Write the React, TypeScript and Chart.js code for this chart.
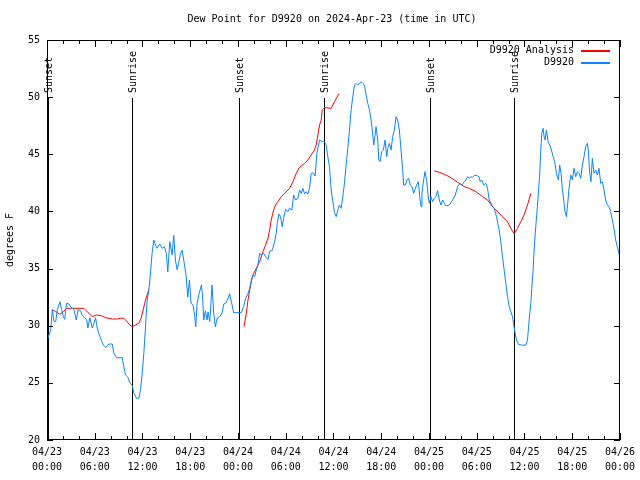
import React, { useEffect, useRef } from "react";
import { Chart, registerables } from "chart.js";

Chart.register(...registerables);

const TITLE = "Dew Point for D9920 on 2024-Apr-23 (time in UTC)";
const Y_TITLE = "degrees F";
const FONT = "DejaVu Sans Mono";

// hours since 2024-04-23 00:00 UTC
const xTickDates = ["04/23", "04/23", "04/23", "04/23", "04/24", "04/24", "04/24", "04/24", "04/25", "04/25", "04/25", "04/25", "04/26"];
const xTickTimes = ["00:00", "06:00", "12:00", "18:00", "00:00", "06:00", "12:00", "18:00", "00:00", "06:00", "12:00", "18:00", "00:00"];

const sunEventHours = [0.1, 10.72, 24.12, 34.78, 48.1, 58.74];
const sunEventLabels = ["Sunset", "Sunrise", "Sunset", "Sunrise", "Sunset", "Sunrise"];

const obsHours = [
  0.0, 0.46, 0.67, 0.88, 1.09, 1.3, 1.63, 1.84, 2.05, 2.22, 2.47, 2.76, 3.05, 3.39, 3.68, 3.93, 4.22, 4.43, 4.72, 4.98,
  5.14, 5.39, 5.69, 5.9, 6.1, 6.31, 6.52, 6.82, 7.07, 7.4, 7.78, 8.2, 8.4, 8.74, 9.45, 9.66, 9.87, 10.16, 10.41, 10.7,
  10.91, 11.25, 11.54, 11.75, 11.96, 12.17, 12.38, 12.59, 12.8, 13.0, 13.2, 13.42, 13.63, 13.84, 14.17, 14.47, 14.76, 15.0, 15.18, 15.43,
  15.72, 15.93, 16.14, 16.35, 16.56, 16.77, 16.98, 17.18, 17.48, 17.69, 17.9, 18.1, 18.36, 18.57, 18.69, 18.86, 19.11, 19.4, 19.53, 19.7,
  19.9, 20.11, 20.24, 20.45, 20.53, 20.74, 20.95, 21.16, 21.37, 21.7, 22.0, 22.2, 22.46, 22.66, 22.96, 23.17, 23.46, 24.0, 24.42, 24.71,
  24.96, 25.26, 25.47, 25.68, 25.88, 26.09, 26.3, 26.51, 26.72, 26.93, 27.22, 27.47, 27.77, 27.98, 28.31, 28.6, 28.81, 28.94, 29.15, 29.35,
  29.56, 29.73, 29.98, 30.27, 30.48, 30.78, 30.99, 31.24, 31.53, 31.74, 31.95, 32.16, 32.37, 32.57, 32.78, 32.99, 33.2, 33.41, 33.7, 33.91,
  34.08, 34.25, 34.58, 34.87, 35.08, 35.29, 35.5, 35.71, 35.92, 36.13, 36.34, 36.55, 36.75, 36.96, 37.17, 37.38, 37.59, 37.8, 38.01, 38.22,
  38.43, 38.64, 38.85, 39.05, 39.26, 39.47, 39.68, 39.89, 40.1, 40.31, 40.52, 40.73, 40.94, 41.06, 41.23, 41.35, 41.56, 41.69, 41.86, 42.06,
  42.27, 42.48, 42.69, 42.82, 43.03, 43.24, 43.44, 43.65, 43.86, 44.07, 44.28, 44.49, 44.7, 44.82, 45.03, 45.24, 45.45, 45.66, 45.87, 46.08,
  46.29, 46.45, 46.66, 46.87, 47.0, 47.12, 47.33, 47.5, 47.71, 47.88, 48.04, 48.25, 48.46, 48.67, 48.88, 49.09, 49.3, 49.51, 49.72, 49.93,
  50.13, 50.55, 50.97, 51.31, 51.6, 51.89, 52.14, 52.43, 52.64, 52.85, 53.06, 53.27, 53.48, 53.77, 54.1, 54.3, 54.44, 54.65, 54.86, 55.15,
  55.36, 55.57, 55.9, 56.2, 56.49, 56.82, 57.03, 57.24, 57.45, 57.66, 57.87, 58.08, 58.29, 58.5, 58.62, 58.79, 59.0, 59.25, 59.75, 60.17,
  60.38, 60.59, 60.8, 60.92, 61.09, 61.21, 61.42, 61.63, 61.76, 61.92, 62.05, 62.18, 62.34, 62.47, 62.59, 62.76, 62.97, 63.18, 63.39, 63.6,
  63.81, 64.01, 64.14, 64.27, 64.43, 64.6, 64.77, 64.93, 65.1, 65.27, 65.44, 65.6, 65.81, 66.02, 66.23, 66.44, 66.65, 66.86, 67.07, 67.28,
  67.49, 67.69, 67.9, 68.03, 68.2, 68.36, 68.53, 68.74, 68.95, 69.16, 69.37, 69.58, 69.79, 70.0, 70.2, 70.41, 70.62, 70.83, 71.04, 71.25,
  71.46, 71.67, 71.87, 72.0,
];
const obsDew = [
  28.7, 29.6, 31.4, 30.35, 30.35, 31.4, 32.1, 31.4, 30.8, 30.56, 31.96, 31.9, 31.6, 31.4, 30.5, 31.4, 31.3, 30.9, 30.7, 30.55,
  29.8, 30.7, 29.8, 30.2, 30.7, 29.8, 29.3, 28.75, 28.3, 28.1, 28.4, 28.4, 27.6, 27.2, 27.2, 26.4, 25.7, 25.5, 25.0, 24.8,
  24.1, 23.65, 23.65, 24.4, 25.8, 27.6, 29.9, 32.25, 33.1, 34.6, 36.3, 37.5, 37.06, 36.77, 37.15, 36.77, 36.9, 36.3, 34.7, 37.35,
  36.2, 37.9, 35.75, 34.9, 35.5, 36.3, 36.6, 35.75, 34.4, 32.5, 34.0, 31.96, 31.8, 30.8, 29.9, 31.96, 32.8, 33.56, 32.8, 30.5,
  31.3, 30.5, 31.2, 30.36, 31.1, 33.56, 31.1, 29.9, 30.65, 30.8, 31.1, 31.9, 31.96, 32.25, 32.8, 32.1, 31.14, 31.14, 31.14, 31.67,
  32.4, 32.8, 33.27, 34.0, 34.4, 34.3, 34.88, 35.3, 36.33, 36.2, 36.33, 36.04, 35.8, 36.5, 36.6, 37.35, 38.08, 38.96, 39.78, 39.54,
  38.67, 39.4, 40.18, 39.98, 40.27, 40.13, 41.44, 41.0, 41.15, 41.88, 41.58, 42.02, 41.53, 41.73, 41.53, 42.02, 43.33, 43.39, 43.1, 45.08,
  45.67, 46.25, 46.1, 46.1, 45.8, 44.8, 43.9, 41.88, 40.86, 39.9, 39.54, 40.13, 40.56, 40.27, 41.29, 42.46, 44.06, 45.52, 47.13, 48.88,
  50.04, 51.06, 51.2, 51.06, 51.2, 51.35, 51.2, 51.06, 50.19, 49.46, 48.88, 48.0, 46.69, 45.81, 46.69, 47.42, 46.25, 44.5, 44.36, 45.23,
  45.38, 46.25, 44.79, 45.52, 45.96, 45.38, 46.54, 47.13, 48.29, 48.0, 47.13, 45.38, 43.63, 42.31, 42.31, 42.75, 42.9, 42.31, 42.17, 41.58,
  42.02, 42.31, 42.6, 41.15, 40.42, 41.58, 42.75, 43.48, 42.75, 41.44, 40.71, 41.29, 40.85, 41.15, 41.29, 41.82, 41.0, 40.56, 41.0, 40.71,
  40.48, 40.56, 41.0, 41.44, 42.17, 42.46, 42.31, 42.6, 42.75, 43.04, 42.9, 43.04, 42.98, 43.19, 43.1, 43.04, 42.6, 42.75, 42.31, 42.46,
  42.02, 41.0, 40.56, 40.27, 39.54, 38.37, 37.35, 36.04, 34.87, 33.71, 32.54, 31.67, 31.23, 30.79, 30.21, 29.48, 28.75, 28.37, 28.29, 28.31,
  28.75, 30.5, 31.96, 33.27, 34.87, 36.62, 38.67, 40.42, 41.73, 43.33, 45.37, 46.83, 47.27, 46.54, 46.25, 47.13, 46.1, 45.81, 45.37, 44.79,
  44.36, 43.33, 43.04, 42.75, 44.06, 43.33, 41.88, 41.0, 39.98, 39.54, 40.71, 42.02, 43.19, 42.75, 43.77, 43.04, 43.48, 43.33, 42.9, 44.06,
  44.79, 45.67, 45.96, 45.37, 43.33, 42.6, 44.65, 43.33, 43.62, 43.19, 43.77, 42.46, 42.6, 41.88, 41.0, 40.56, 40.42, 39.98, 39.25, 38.52,
  37.5, 36.92, 36.33, 36.1,
];

// analysis series; null marks a gap between runs
const anaHours = [
  0.67, 1.09, 1.63, 2.05, 2.47, 2.97, 3.6, 4.64, 5.06, 5.69, 6.23, 6.82, 7.36, 8.2, 8.82, 9.24, 9.66, 9.99, 10.41, 10.7,
  11.12, 11.54, 11.83, 12.08, 12.38, 12.8,
  18.0,
  24.76, 25.05, 25.26, 25.47, 25.68, 25.88, 26.3, 26.72, 27.14, 27.47, 27.77, 27.98, 28.18, 28.48, 28.73, 29.02, 29.44, 30.07, 30.48,
  30.9, 31.32, 31.74, 32.37, 32.78, 33.2, 33.62, 33.83, 34.04, 34.25, 34.46, 34.58, 34.88, 35.71, 36.13, 36.67,
  42.0,
  48.67, 49.3, 49.93, 50.55, 51.18, 51.81, 52.43, 53.06, 53.9, 54.73, 55.36, 55.99, 56.62, 57.24, 57.87, 58.29, 58.71, 59.12, 59.54, 59.96,
  60.38, 60.8,
];
const anaDew = [
  31.4, 31.23, 31.0, 31.23, 31.52, 31.52, 31.52, 31.52, 31.23, 30.79, 30.94, 30.88, 30.7, 30.59, 30.59, 30.65, 30.65, 30.41, 30.06, 29.92,
  30.06, 30.21, 30.65, 31.38, 32.25, 33.18,
  null,
  29.92, 31.09, 32.25, 33.13, 33.86, 34.44, 35.02, 35.6, 36.48, 37.06, 37.65, 38.38, 39.25, 40.13, 40.56, 40.86, 41.29, 41.73, 42.02,
  42.6, 43.33, 43.86, 44.21, 44.5, 44.94, 45.38, 45.81, 46.69, 47.56, 48.0, 48.88, 49.08, 49.02, 49.6, 50.28,
  null,
  43.54, 43.42, 43.25, 43.04, 42.75, 42.46, 42.17, 42.02, 41.73, 41.29, 41.0, 40.42, 39.98, 39.54, 39.1, 38.52, 38.03, 38.52, 39.1, 39.69,
  40.56, 41.58,
];

const legendLabels = ["D9920 Analysis", "D9920"];
const RED = "#ff0000";
const BLUE = "#0a84ff";

const overlay = {
  id: "overlay",
  beforeDatasetsDraw(chart: any) {
    const { ctx, chartArea, scales } = chart;
    ctx.save();
    ctx.strokeStyle = "#000";
    ctx.lineWidth = 1;
    sunEventHours.forEach((h) => {
      const x = Math.round(scales.x.getPixelForValue(h)) + 0.5;
      ctx.beginPath();
      ctx.moveTo(x, 98);
      ctx.lineTo(x, chartArea.bottom);
      ctx.stroke();
    });
    ctx.restore();
  },
  afterDraw(chart: any) {
    const { ctx, chartArea, scales } = chart;
    const { left, right, top, bottom } = chartArea;
    ctx.save();
    ctx.strokeStyle = "#000";
    ctx.lineWidth = 1;
    ctx.strokeRect(left + 0.5, top + 0.5, right - left - 1, bottom - top - 1);
    // x ticks every 2 hours, mirrored
    ctx.beginPath();
    for (let h = 0; h <= 72; h += 2) {
      const x = Math.round(scales.x.getPixelForValue(h)) + 0.5;
      const len = h % 6 === 0 ? 7 : 4;
      ctx.moveTo(x, bottom);
      ctx.lineTo(x, bottom - len);
      ctx.moveTo(x, top);
      ctx.lineTo(x, top + len);
    }
    for (let v = 20; v <= 55; v += 5) {
      const y = Math.round(scales.y.getPixelForValue(v)) + 0.5;
      ctx.moveTo(left, y);
      ctx.lineTo(left + 6, y);
      ctx.moveTo(right, y);
      ctx.lineTo(right - 6, y);
    }
    ctx.stroke();

    ctx.fillStyle = "#000";
    ctx.font = `10px "${FONT}"`;
    // title
    ctx.textAlign = "center";
    ctx.textBaseline = "middle";
    ctx.fillText(TITLE, 332, 19);
    // sun labels
    sunEventHours.forEach((h, i) => {
      const x = Math.round(scales.x.getPixelForValue(h)) + 1;
      ctx.save();
      ctx.translate(x, 93);
      ctx.rotate(-Math.PI / 2);
      ctx.textAlign = "left";
      ctx.textBaseline = "middle";
      ctx.fillText(sunEventLabels[i], 0, 0);
      ctx.restore();
    });
    // legend
    const colors = [RED, BLUE];
    legendLabels.forEach((lab, i) => {
      const y = 50.5 + i * 12;
      ctx.textAlign = "right";
      ctx.textBaseline = "middle";
      ctx.fillStyle = "#000";
      ctx.fillText(lab, 574, y);
      ctx.fillStyle = colors[i];
      ctx.fillRect(581, Math.round(y) - 1, 29, 2);
    });
    ctx.restore();
  },
};

export default function App() {
  const ref = useRef<HTMLCanvasElement>(null);
  useEffect(() => {
    if (!ref.current) return;
    const chart = new Chart(ref.current, {
      type: "line",
      data: {
        datasets: [
          {
            label: legendLabels[1],
            data: obsHours.map((h, i) => ({ x: h, y: obsDew[i] })),
            borderColor: BLUE,
            borderWidth: 1,
            pointRadius: 0,
            tension: 0,
          },
          {
            label: legendLabels[0],
            data: anaHours.map((h, i) => ({ x: h, y: anaDew[i] })),
            borderColor: RED,
            borderWidth: 1,
            pointRadius: 0,
            tension: 0,
            spanGaps: false,
          },
        ],
      },
      options: {
        animation: false,
        responsive: false,
        devicePixelRatio: 1,
        layout: { padding: { top: 40, right: 19, left: 0, bottom: 0 } },
        plugins: { legend: { display: false }, tooltip: { enabled: false }, title: { display: false } },
        scales: {
          x: {
            type: "linear",
            min: 0,
            max: 72,
            grid: { display: false, drawTicks: false },
            border: { display: false },
            ticks: {
              stepSize: 6,
              autoSkip: false,
              maxRotation: 0,
              padding: 5,
              color: "#000",
              font: { family: FONT, size: 10, lineHeight: 1.5 },
              callback: (v: any) => {
                const i = Math.round(Number(v) / 6);
                return [xTickDates[i], xTickTimes[i]];
              },
            },
            afterFit: (s: any) => {
              s.height = 40;
            },
          },
          y: {
            type: "linear",
            min: 20,
            max: 55,
            grid: { display: false, drawTicks: false },
            border: { display: false },
            ticks: {
              stepSize: 5,
              padding: 7,
              color: "#000",
              font: { family: FONT, size: 10 },
            },
            title: {
              display: true,
              text: Y_TITLE,
              color: "#000",
              font: { family: FONT, size: 10 },
              padding: 4,
            },
            afterFit: (s: any) => {
              s.width = 47;
            },
          },
        },
      },
      plugins: [overlay],
    });
    return () => chart.destroy();
  }, []);
  return (
    <div style={{ position: "absolute", left: 0, top: 0, width: 640, height: 480, background: "#fff" }}>
      <canvas ref={ref} width={640} height={480} />
    </div>
  );
}
